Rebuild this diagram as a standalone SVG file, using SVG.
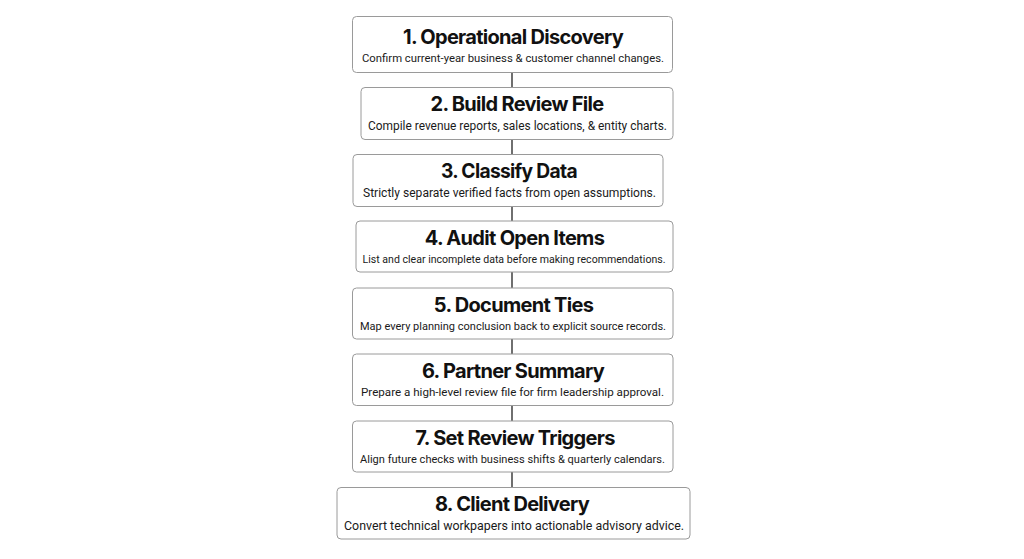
<svg xmlns="http://www.w3.org/2000/svg" width="1024" height="559" viewBox="0 0 1024 559">
<style>
.box{fill:#fff;stroke:#9a9a9a;stroke-width:1}
.t{font-family:Inter,"Liberation Sans",sans-serif;font-weight:700;font-size:20px;fill:#111;text-anchor:middle;letter-spacing:-0.7px}
.s{font-family:Roboto,"Liberation Sans",sans-serif;font-size:12px;fill:#1a1a1a;text-anchor:middle}
.c{stroke:#222;stroke-width:1.3;fill:none}
</style>
<rect width="1024" height="559" fill="#fff"/>
<g id="connectors">
<line class="c" x1="512" y1="72.5" x2="512" y2="87.5"/>
<line class="c" x1="512" y1="139.5" x2="512" y2="154.5"/>
<line class="c" x1="512" y1="206.5" x2="512" y2="221"/>
<line class="c" x1="512" y1="272" x2="512" y2="288"/>
<line class="c" x1="512" y1="339" x2="512" y2="354"/>
<line class="c" x1="512" y1="405.5" x2="512" y2="421"/>
<line class="c" x1="512" y1="472" x2="512" y2="487.5"/>
</g>
<g id="n1"><rect class="box" x="352.5" y="16.5" width="320" height="56" rx="4"/><text class="t" x="513" y="44">1. Operational Discovery</text><text class="s" x="513" y="62" style="font-size:11.3px" textLength="302" lengthAdjust="spacingAndGlyphs">Confirm current-year business &amp; customer channel changes.</text></g>
<g id="n2"><rect class="box" x="361" y="87.5" width="312" height="52" rx="4"/><text class="t" x="517" y="111">2. Build Review File</text><text class="s" x="517.5" y="130" textLength="299" lengthAdjust="spacingAndGlyphs">Compile revenue reports, sales locations, &amp; entity charts.</text></g>
<g id="n3"><rect class="box" x="353" y="154.5" width="310" height="52" rx="4"/><text class="t" x="509" y="178" textLength="136" lengthAdjust="spacingAndGlyphs">3. Classify Data</text><text class="s" x="509.5" y="197" textLength="293" lengthAdjust="spacingAndGlyphs">Strictly separate verified facts from open assumptions.</text></g>
<g id="n4"><rect class="box" x="356" y="221" width="317" height="51" rx="4"/><text class="t" x="514.5" y="245">4. Audit Open Items</text><text class="s" x="514" y="263" style="font-size:10.7px" textLength="303" lengthAdjust="spacingAndGlyphs">List and clear incomplete data before making recommendations.</text></g>
<g id="n5"><rect class="box" x="352.5" y="288" width="320.5" height="51" rx="4"/><text class="t" x="513.5" y="312">5. Document Ties</text><text class="s" x="513" y="330" style="font-size:11px" textLength="306" lengthAdjust="spacingAndGlyphs">Map every planning conclusion back to explicit source records.</text></g>
<g id="n6"><rect class="box" x="352.5" y="354" width="320.5" height="51.5" rx="4"/><text class="t" x="513" y="378">6. Partner Summary</text><text class="s" x="512.5" y="396" style="font-size:11.6px" textLength="303" lengthAdjust="spacingAndGlyphs">Prepare a high-level review file for firm leadership approval.</text></g>
<g id="n7"><rect class="box" x="352.5" y="421" width="320.5" height="51" rx="4"/><text class="t" x="515" y="445">7. Set Review Triggers</text><text class="s" x="512.5" y="463" style="font-size:11.1px" textLength="305" lengthAdjust="spacingAndGlyphs">Align future checks with business shifts &amp; quarterly calendars.</text></g>
<g id="n8"><rect class="box" x="337" y="487.5" width="353" height="51.5" rx="4"/><text class="t" x="512" y="511">8. Client Delivery</text><text class="s" x="514" y="530" style="font-size:12.4px" textLength="340" lengthAdjust="spacingAndGlyphs">Convert technical workpapers into actionable advisory advice.</text></g>
</svg>
